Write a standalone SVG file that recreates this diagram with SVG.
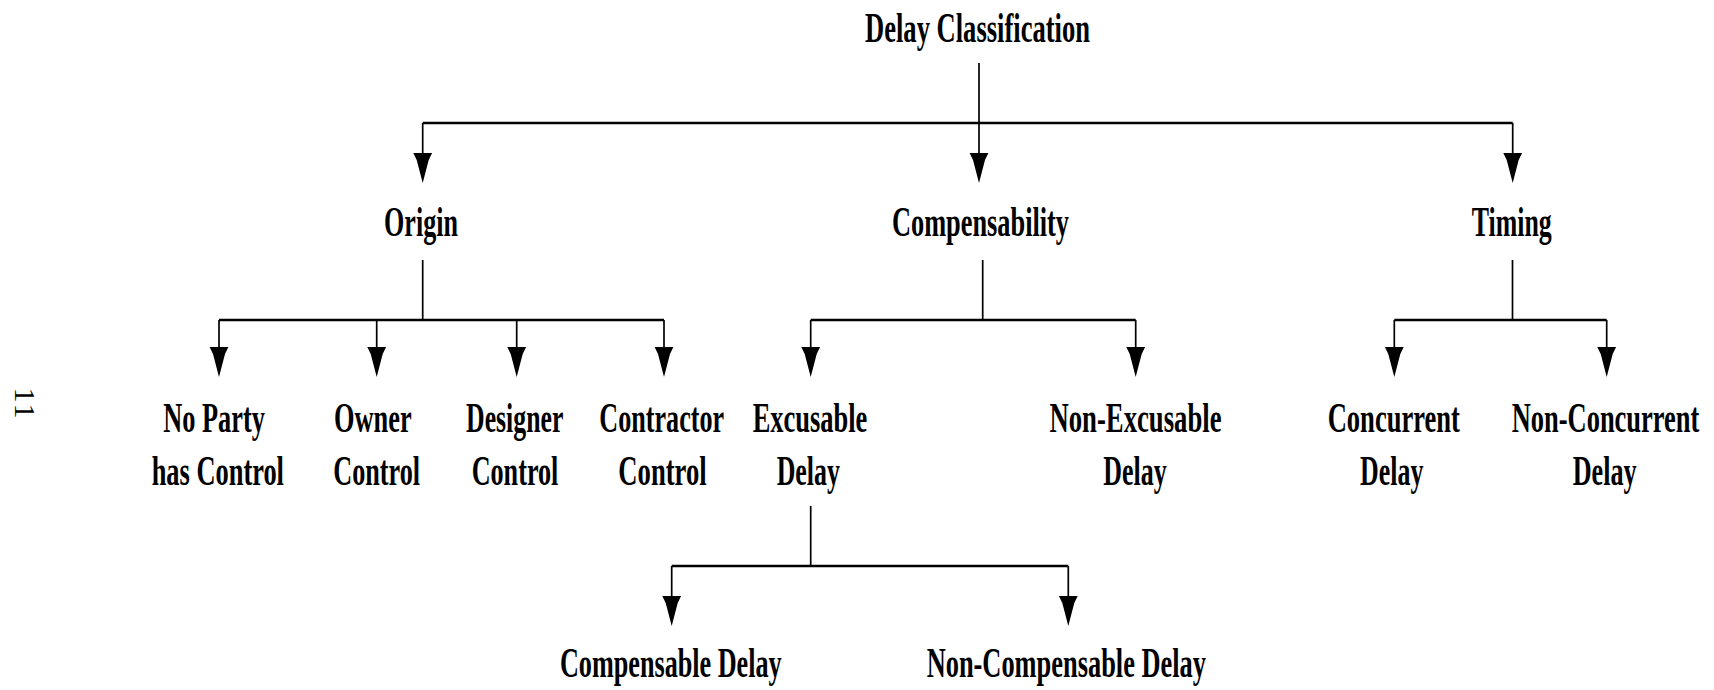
<svg xmlns="http://www.w3.org/2000/svg" width="1714" height="690" viewBox="0 0 1714 690">
  <style>
    .lbl { font-family: "Liberation Serif", "Times New Roman", serif; font-weight: bold; font-size: 27px; fill: #000; text-anchor: middle; }
    .pg { font-family: "Liberation Serif", "Times New Roman", serif; font-size: 30px; fill: #000; text-anchor: middle; letter-spacing: 2px; }
    .h { stroke: #000; stroke-width: 2.6; fill: none; }
    .v { stroke: #000; stroke-width: 1.7; fill: none; }
    .drop { stroke: #000; stroke-width: 1.7; fill: none; marker-end: url(#head); }
  </style>
  <defs>
    <!-- downward arrowhead: starts where the drop line ends, tip 30px further on -->
    <marker id="head" markerUnits="userSpaceOnUse" markerWidth="31" markerHeight="20" viewBox="0 0 31 20" refX="0" refY="10" orient="auto" overflow="visible">
      <path d="M0,0.6 L0,19.4 L7,16 L30,10 L7,4 Z" fill="#000"/>
    </marker>
  </defs>

  <rect width="1714" height="690" fill="#fff"/>

  <!-- page number, printed sideways -->
  <text class="pg" transform="translate(15,404) rotate(90)">11</text>

  <g id="connectors">
    <!-- root to first level -->
    <line class="v" x1="979" y1="63" x2="979" y2="123"/>
    <line class="h" x1="422.7" y1="123" x2="1512.7" y2="123"/>
    <line class="drop" x1="422.7" y1="123" x2="422.7" y2="153"/>
    <line class="drop" x1="979" y1="123" x2="979" y2="153"/>
    <line class="drop" x1="1512.7" y1="123" x2="1512.7" y2="153"/>

    <!-- Origin branches -->
    <line class="v" x1="422.7" y1="260" x2="422.7" y2="320"/>
    <line class="h" x1="219" y1="320" x2="664" y2="320"/>
    <line class="drop" x1="219" y1="320" x2="219" y2="347"/>
    <line class="drop" x1="376.7" y1="320" x2="376.7" y2="347"/>
    <line class="drop" x1="516.7" y1="320" x2="516.7" y2="347"/>
    <line class="drop" x1="664" y1="320" x2="664" y2="347"/>

    <!-- Compensability branches -->
    <line class="v" x1="982.7" y1="260" x2="982.7" y2="320"/>
    <line class="h" x1="810.7" y1="320" x2="1135.7" y2="320"/>
    <line class="drop" x1="810.7" y1="320" x2="810.7" y2="347"/>
    <line class="drop" x1="1135.7" y1="320" x2="1135.7" y2="347"/>

    <!-- Timing branches -->
    <line class="v" x1="1512.5" y1="260" x2="1512.5" y2="320"/>
    <line class="h" x1="1394.3" y1="320" x2="1606.7" y2="320"/>
    <line class="drop" x1="1394.3" y1="320" x2="1394.3" y2="347"/>
    <line class="drop" x1="1606.7" y1="320" x2="1606.7" y2="347"/>

    <!-- Excusable Delay branches -->
    <line class="v" x1="810.7" y1="506" x2="810.7" y2="566"/>
    <line class="h" x1="671.7" y1="566" x2="1068.3" y2="566"/>
    <line class="drop" x1="671.7" y1="566" x2="671.7" y2="596"/>
    <line class="drop" x1="1068.3" y1="566" x2="1068.3" y2="596"/>
  </g>

  <!-- labels are set in a tall, narrow bold serif: normal glyphs stretched 1.6x vertically -->
  <g id="delay-classification">
    <text class="lbl" transform="translate(977.5,42) scale(1,1.6)" textLength="225" lengthAdjust="spacingAndGlyphs">Delay Classification</text>
  </g>

  <g id="origin">
    <text class="lbl" transform="translate(421,236) scale(1,1.6)" textLength="74" lengthAdjust="spacingAndGlyphs">Origin</text>
  </g>
  <g id="compensability">
    <text class="lbl" transform="translate(980.5,236) scale(1,1.6)" textLength="177" lengthAdjust="spacingAndGlyphs">Compensability</text>
  </g>
  <g id="timing">
    <text class="lbl" transform="translate(1511.7,236) scale(1,1.6)" textLength="80" lengthAdjust="spacingAndGlyphs">Timing</text>
  </g>

  <g id="no-party-control">
    <text class="lbl" transform="translate(214,432) scale(1,1.6)" textLength="101.7" lengthAdjust="spacingAndGlyphs">No Party</text>
    <text class="lbl" transform="translate(217.8,484.5) scale(1,1.6)" textLength="132.3" lengthAdjust="spacingAndGlyphs">has Control</text>
  </g>
  <g id="owner-control">
    <text class="lbl" transform="translate(372.8,432) scale(1,1.6)" textLength="77.7" lengthAdjust="spacingAndGlyphs">Owner</text>
    <text class="lbl" transform="translate(376.7,484.5) scale(1,1.6)" textLength="86.7" lengthAdjust="spacingAndGlyphs">Control</text>
  </g>
  <g id="designer-control">
    <text class="lbl" transform="translate(514.7,432) scale(1,1.6)" textLength="97.3" lengthAdjust="spacingAndGlyphs">Designer</text>
    <text class="lbl" transform="translate(515,484.5) scale(1,1.6)" textLength="86.7" lengthAdjust="spacingAndGlyphs">Control</text>
  </g>
  <g id="contractor-control">
    <text class="lbl" transform="translate(661.7,432) scale(1,1.6)" textLength="124.7" lengthAdjust="spacingAndGlyphs">Contractor</text>
    <text class="lbl" transform="translate(662.5,484.5) scale(1,1.6)" textLength="88.3" lengthAdjust="spacingAndGlyphs">Control</text>
  </g>

  <g id="excusable-delay">
    <text class="lbl" transform="translate(810,432) scale(1,1.6)" textLength="114.7" lengthAdjust="spacingAndGlyphs">Excusable</text>
    <text class="lbl" transform="translate(808.3,484.5) scale(1,1.6)" textLength="63.3" lengthAdjust="spacingAndGlyphs">Delay</text>
  </g>
  <g id="non-excusable-delay">
    <text class="lbl" transform="translate(1135.5,432) scale(1,1.6)" textLength="172" lengthAdjust="spacingAndGlyphs">Non-Excusable</text>
    <text class="lbl" transform="translate(1135,484.5) scale(1,1.6)" textLength="63.4" lengthAdjust="spacingAndGlyphs">Delay</text>
  </g>

  <g id="concurrent-delay">
    <text class="lbl" transform="translate(1393.8,432) scale(1,1.6)" textLength="132.3" lengthAdjust="spacingAndGlyphs">Concurrent</text>
    <text class="lbl" transform="translate(1391.7,484.5) scale(1,1.6)" textLength="63.3" lengthAdjust="spacingAndGlyphs">Delay</text>
  </g>
  <g id="non-concurrent-delay">
    <text class="lbl" transform="translate(1605.5,432) scale(1,1.6)" textLength="187.6" lengthAdjust="spacingAndGlyphs">Non-Concurrent</text>
    <text class="lbl" transform="translate(1604.7,484.5) scale(1,1.6)" textLength="64" lengthAdjust="spacingAndGlyphs">Delay</text>
  </g>

  <g id="compensable-delay">
    <text class="lbl" transform="translate(670.8,677) scale(1,1.6)" textLength="221.7" lengthAdjust="spacingAndGlyphs">Compensable Delay</text>
  </g>
  <g id="non-compensable-delay">
    <text class="lbl" transform="translate(1066.3,677) scale(1,1.6)" textLength="279.3" lengthAdjust="spacingAndGlyphs">Non-Compensable Delay</text>
  </g>
</svg>
